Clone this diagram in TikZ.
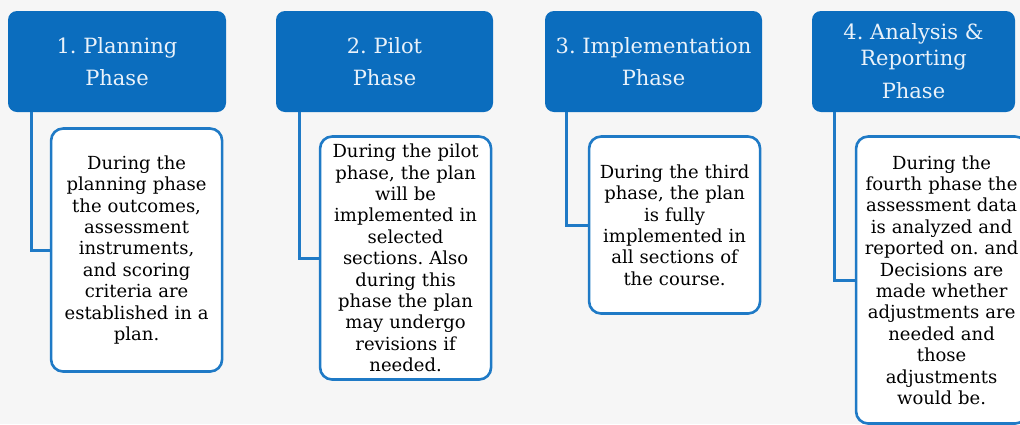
\documentclass[tikz,border=0pt]{standalone}
\usepackage{fontspec}
\setmainfont{DejaVu Serif}
\usetikzlibrary{positioning}
\definecolor{phaseblue}{HTML}{0B6DBE}
\definecolor{lineblue}{HTML}{1F7AC6}
\definecolor{headtext}{HTML}{EAF2FA}
\definecolor{paper}{HTML}{F6F6F6}
\frenchspacing

\begin{document}
\begin{tikzpicture}[x=1pt,y=-1pt,
    phase/.style={rectangle,rounded corners=9pt,fill=phaseblue,text=headtext,minimum width=218pt,minimum height=101pt,align=center,font=\fontsize{21}{32}\selectfont},
    info/.style={rectangle,rounded corners=12pt,draw=lineblue,line width=2.6pt,fill=white,text width=171pt,inner xsep=0pt,inner ysep=2pt,align=center,font=\fontsize{18}{21.4}\selectfont},
    link/.style={draw=lineblue,line width=3pt}]

    \useasboundingbox[fill=paper] (0,0) rectangle (1020,424);

    \node[phase] (p1) at (117,61.5) {1. Planning\\Phase};
    \node[phase,minimum width=217pt] (p2) at (384.5,61.5) {2. Pilot\\Phase};
    \node[phase,minimum width=217pt] (p3) at (653.5,61.5) {3. Implementation\\Phase};
    \node[phase,minimum width=203pt,font=\fontsize{21}{26}\selectfont] (p4) at (913.5,61.5) {4. Analysis \&\\Reporting\\[7pt]Phase};

    \node[info,minimum height=243pt] (d1) [below right=15pt and 42pt of p1.south west]
        {During the\\planning phase\\the outcomes,\\assessment\\instruments,\\and scoring\\criteria are\\established in a\\plan.};
    \node[info,minimum height=243pt] (d2) [below right=23pt and 43pt of p2.south west]
        {During the pilot\\phase, the plan\\will be\\implemented in\\selected\\sections. Also\\during this\\phase the plan\\may undergo\\revisions if\\needed.};
    \node[info,minimum height=177pt] (d3) [below right=23pt and 43pt of p3.south west]
        {During the third\\phase, the plan\\is fully\\implemented in\\all sections of\\the course.};
    \node[info,minimum height=287pt] (d4) [below right=23pt and 43pt of p4.south west]
        {During the\\fourth phase the\\assessment data\\is analyzed and\\reported on. and\\Decisions are\\made whether\\adjustments are\\needed and\\those\\adjustments\\would be.};

	\draw[link] ([xshift=24pt]p1.south west) |- (d1);
	\draw[link] ([xshift=24pt]p2.south west) |- (d2);
	\draw[link] ([xshift=22pt]p3.south west) |- (d3);
	\draw[link] ([xshift=23pt]p4.south west) |- (d4);
\end{tikzpicture}
\end{document}
